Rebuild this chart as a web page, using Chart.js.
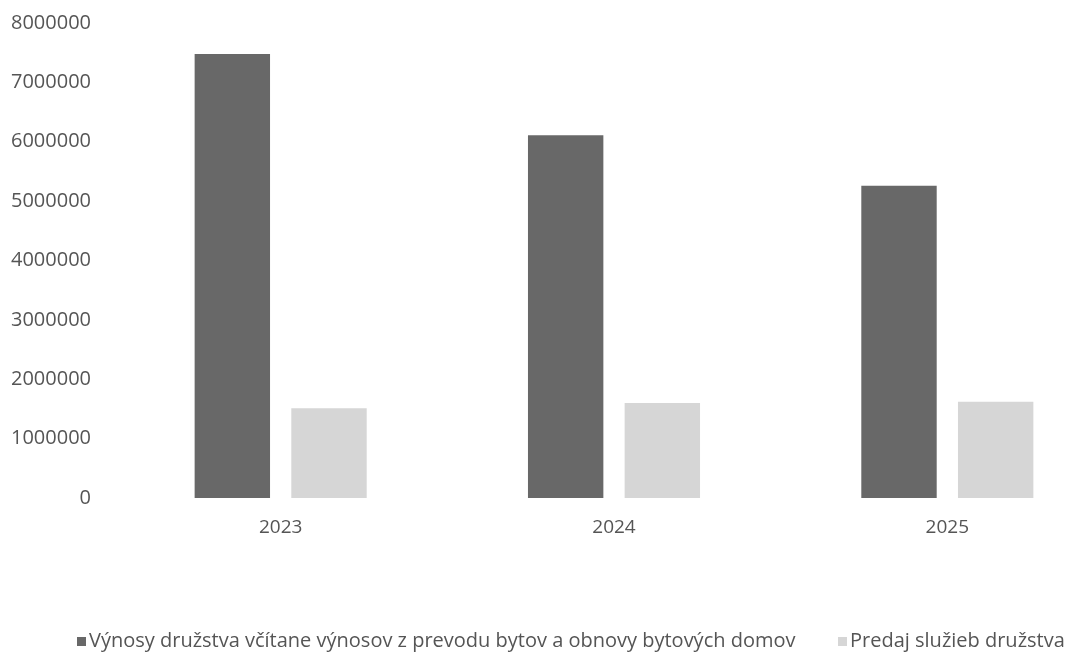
<!DOCTYPE html>
<html>
<head>
<meta charset="utf-8">
<script src="https://cdn.jsdelivr.net/npm/chart.js@4/dist/chart.umd.min.js"></script>
<style>
  html, body { margin: 0; padding: 0; background: #fff; overflow: hidden; width: 1078px; height: 656px; }
  #wrap { position: absolute; left: 0; top: -12px; width: 1120px; height: 668px; }
  #legend { position: absolute; top: 628px; left: 0; width: 1078px; height: 26px; font-family: "Open Sans", sans-serif; font-size: 20px; color: #555; }
  .item { position: absolute; top: 0; white-space: nowrap; line-height: 24px; }
  .box { display: inline-block; width: 9px; height: 9px; margin-right: 3px; vertical-align: 1px; }
</style>
</head>
<body>
<div id="wrap"><canvas id="c" width="1120" height="668"></canvas></div>
<div id="legend"></div>
<script>
const categories = ["2023", "2024", "2025"];
const seriesNames = [
  "Výnosy družstva včítane výnosov z prevodu bytov a obnovy bytových domov",
  "Predaj služieb družstva"
];
const revenues = [7480000, 6110000, 5260000];
const services = [1510000, 1600000, 1620000];
const yMin = 0, yMax = 8000000, yStep = 1000000;
const colors = ["#686868", "#d6d6d6"];

const legend = document.getElementById('legend');
const legendX = [77, 838];
seriesNames.forEach((n, i) => {
  const d = document.createElement('div');
  d.className = 'item';
  d.style.left = legendX[i] + 'px';
  d.innerHTML = '<span class="box" style="background:' + colors[i] + '"></span>' + n;
  legend.appendChild(d);
});

new Chart(document.getElementById('c'), {
  type: 'bar',
  data: {
    labels: categories,
    datasets: [
      { label: seriesNames[0], data: revenues, backgroundColor: colors[0] },
      { label: seriesNames[1], data: services, backgroundColor: colors[1] }
    ]
  },
  options: {
    responsive: false,
    animation: false,
    devicePixelRatio: 1,
    layout: { padding: { left: 0, right: 6, top: 9, bottom: 98 } },
    plugins: { legend: { display: false }, tooltip: { enabled: false } },
    datasets: { bar: { categoryPercentage: 0.58, barPercentage: 0.78 } },
    scales: {
      x: {
        grid: { display: false, drawTicks: false },
        border: { display: false },
        ticks: { color: '#555', padding: 18, font: { family: 'Open Sans', size: 19 } },
        afterFit: s => { s.height = 60; }
      },
      y: {
        min: yMin, max: yMax,
        grid: { display: false, drawTicks: false },
        border: { display: false },
        ticks: { stepSize: yStep, color: '#555', padding: 23, font: { family: 'Open Sans', size: 20 },
                 callback: v => String(v) },
        afterFit: s => { s.width = 114; }
      }
    }
  }
});
</script>
</body>
</html>
